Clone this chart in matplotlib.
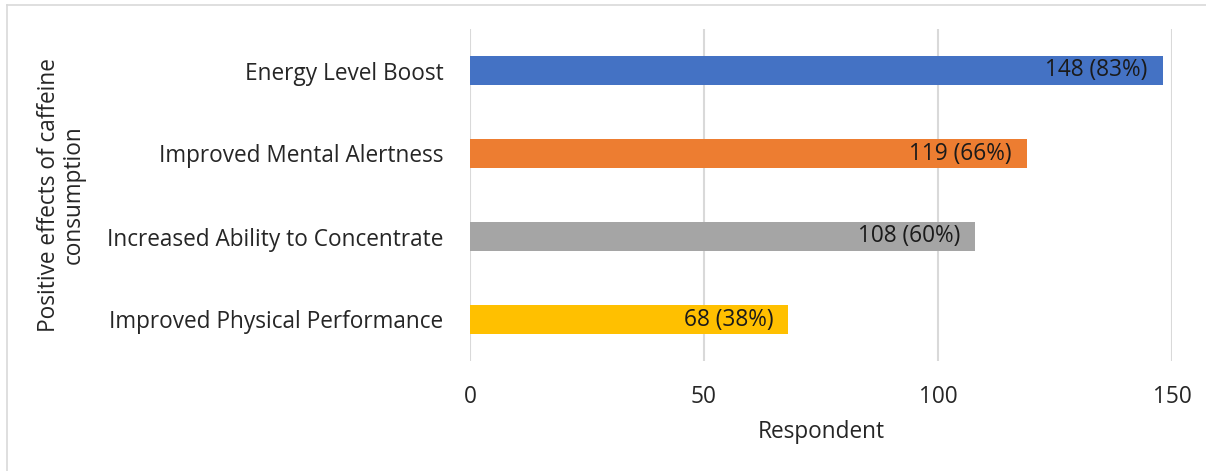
import matplotlib
matplotlib.use("Agg")
import matplotlib.pyplot as plt
from matplotlib.lines import Line2D

categories = [
    "Energy Level Boost",
    "Improved Mental Alertness",
    "Increased Ability to Concentrate",
    "Improved Physical Performance",
]
respondents = [148, 119, 108, 68]
percents = [83, 66, 60, 38]
bar_colors = ["#4472C4", "#ED7D31", "#A5A5A5", "#FFC000"]
x_ticks = [0, 50, 100, 150]

plt.rcParams["font.family"] = ["Open Sans", "DejaVu Sans"]
FS = 16.3

fig = plt.figure(figsize=(12.06, 4.71), dpi=100)
ax = fig.add_axes([470 / 1206, 1 - 361 / 471, 702 / 1206, 332 / 471])

ypos = list(range(len(categories)))
ax.barh(ypos, respondents, height=0.345, color=bar_colors, zorder=3)

for y, v, p in zip(ypos, respondents, percents):
    ax.text(v - 3.2, y, f"{v} ({p}%)", ha="right", va="center",
            fontsize=FS, color="#1a1a1a", zorder=4)

ax.set_xlim(0, 150)
ax.set_ylim(len(categories) - 0.5, -0.5)
ax.set_xticks(x_ticks)
ax.set_yticks(ypos)
ax.set_yticklabels(categories, fontsize=FS, color="#262626")
ax.tick_params(axis="x", labelsize=FS, colors="#262626", length=0, pad=17)
ax.tick_params(axis="y", length=0, pad=19)
ax.grid(axis="x", color="#D9D9D9", linewidth=1.5, zorder=0)
for s in ax.spines.values():
    s.set_visible(False)

ax.set_xlabel("Respondent", fontsize=FS, color="#262626", labelpad=8)
fig.text(61 / 1206, 1 - 195 / 471, "Positive effects of caffeine\nconsumption",
         rotation=90, ha="center", va="center", fontsize=FS,
         color="#262626", linespacing=1.05)

# outer chart frame
fig.add_artist(Line2D([7 / 1206, 7 / 1206], [0, 1 - 5 / 471],
                      transform=fig.transFigure, color="#D9D9D9", linewidth=1.2))
fig.add_artist(Line2D([7 / 1206, 1], [1 - 5 / 471, 1 - 5 / 471],
                      transform=fig.transFigure, color="#D9D9D9", linewidth=1.2))

fig.savefig("out.png", dpi=100)
